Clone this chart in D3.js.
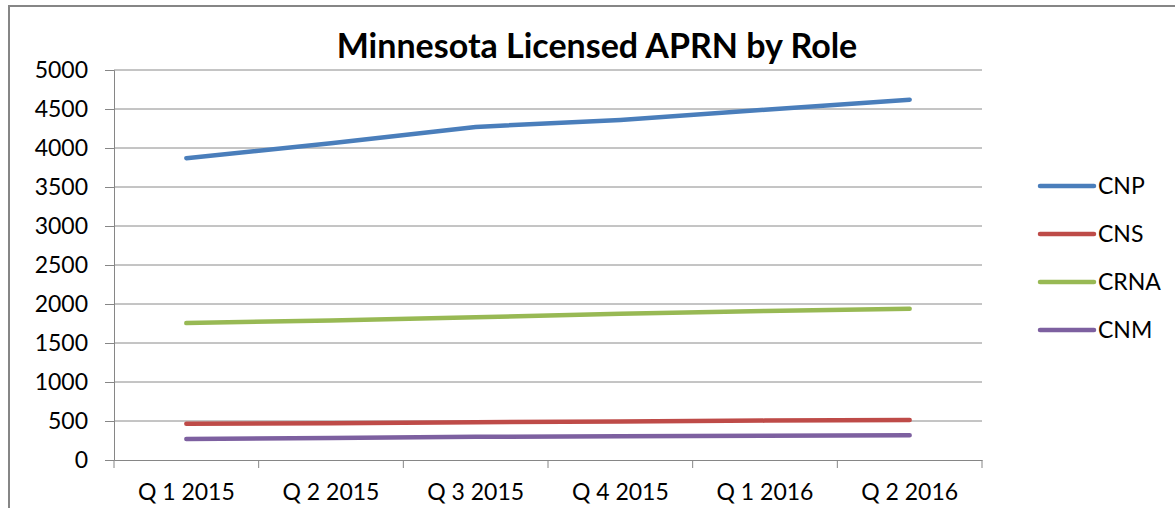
<!DOCTYPE html>
<html lang="en">
<head>
    <meta charset="UTF-8">
    <title>Minnesota Licensed APRN by Role</title>
    <script src="https://d3js.org/d3.v7.min.js"></script>
    <style>
        body { margin: 0; background: #fff; }
        text { font-family: Lato, "Open Sans", sans-serif; fill: #000; }
    </style>
</head>
<body>
    <div id="plot"></div>

    <script>
        // Data
        const quarters = ['Q 1 2015', 'Q 2 2015', 'Q 3 2015', 'Q 4 2015', 'Q 1 2016', 'Q 2 2016'];
        const cnp  = [3870, 4060, 4270, 4360, 4490, 4620];
        const cns  = [465, 470, 485, 495, 505, 512];
        const crna = [1755, 1790, 1830, 1875, 1910, 1940];
        const cnm  = [270, 282, 298, 305, 310, 316];
        const yTicks = [0, 500, 1000, 1500, 2000, 2500, 3000, 3500, 4000, 4500, 5000];

        const series = [
            { name: 'CNP',  values: cnp,  color: '#4a7ebb' },
            { name: 'CNS',  values: cns,  color: '#be4b48' },
            { name: 'CRNA', values: crna, color: '#98b954' },
            { name: 'CNM',  values: cnm,  color: '#7d60a0' }
        ];

        const width = 1175;
        const height = 508;
        const margin = { top: 70, right: 193, bottom: 48, left: 114 };

        const svg = d3.select('#plot')
            .append('svg')
            .attr('width', width)
            .attr('height', height);

        // chart frame (right/bottom edges run off the page)
        svg.append('rect')
            .attr('x', 9).attr('y', 6)
            .attr('width', width).attr('height', height)
            .attr('fill', 'none')
            .attr('stroke', '#868686')
            .attr('stroke-width', 2);

        svg.append('text')
            .attr('x', 597).attr('y', 58)
            .attr('text-anchor', 'middle')
            .style('font-size', '34px')
            .style('font-weight', 'bold')
            .text('Minnesota Licensed APRN by Role');

        const xScale = d3.scaleBand()
            .domain(quarters)
            .range([margin.left, width - margin.right]);

        const yScale = d3.scaleLinear()
            .domain([0, 5000])
            .range([height - margin.bottom, margin.top]);

        // gridlines
        svg.append('g')
            .selectAll('line')
            .data(yTicks.filter(d => d > 0))
            .join('line')
            .attr('x1', margin.left).attr('x2', width - margin.right)
            .attr('y1', d => yScale(d)).attr('y2', d => yScale(d))
            .attr('stroke', '#8a8a8a')
            .attr('stroke-width', 1);

        // y axis
        const yAxis = svg.append('g')
            .attr('transform', `translate(${margin.left},0)`)
            .call(d3.axisLeft(yScale).tickValues(yTicks).tickFormat(d3.format('d')).tickSize(9).tickPadding(17));
        yAxis.selectAll('line, path').attr('stroke', '#868686');
        yAxis.selectAll('text').style('font-size', '23px').attr('fill', '#000');

        // x axis
        const xAxis = svg.append('g')
            .attr('transform', `translate(0,${height - margin.bottom})`)
            .call(d3.axisBottom(xScale).tickSize(0).tickPadding(24));
        xAxis.selectAll('path').attr('stroke', '#868686');
        xAxis.selectAll('text').style('font-size', '23px').attr('fill', '#000');

        // x tick marks sit on band boundaries
        const bounds = quarters.map(q => xScale(q)).concat([width - margin.right]);
        svg.append('g')
            .selectAll('line')
            .data(bounds)
            .join('line')
            .attr('x1', d => d).attr('x2', d => d)
            .attr('y1', height - margin.bottom).attr('y2', height - margin.bottom + 8)
            .attr('stroke', '#868686');

        const line = d3.line()
            .x((d, i) => xScale(quarters[i]) + xScale.bandwidth() / 2)
            .y(d => yScale(d));

        svg.append('g')
            .selectAll('path')
            .data(series)
            .join('path')
            .attr('fill', 'none')
            .attr('stroke', d => d.color)
            .attr('stroke-width', 4.5)
            .attr('stroke-linecap', 'round')
            .attr('stroke-linejoin', 'round')
            .attr('d', d => line(d.values));

        // legend
        const legend = svg.append('g')
            .selectAll('g')
            .data(series)
            .join('g')
            .attr('transform', (d, i) => `translate(1040,${186 + i * 48})`);
        legend.append('line')
            .attr('x1', 0).attr('x2', 54)
            .attr('stroke', d => d.color)
            .attr('stroke-width', 4.5)
            .attr('stroke-linecap', 'round');
        legend.append('text')
            .attr('x', 58).attr('dy', '0.36em')
            .style('font-size', '23px')
            .text(d => d.name);
    </script>
</body>
</html>
